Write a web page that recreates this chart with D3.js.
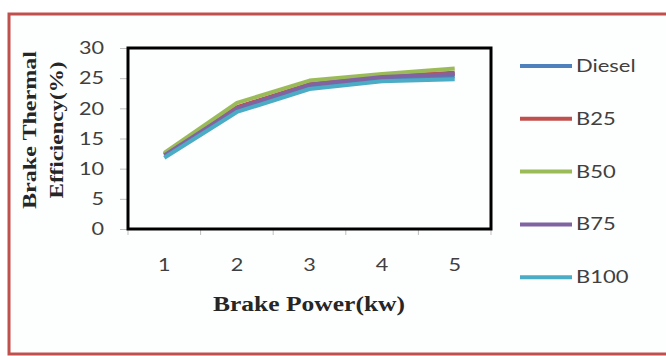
<!DOCTYPE html>
<html>
<head>
<meta charset="utf-8">
<script src="https://cdn.jsdelivr.net/npm/d3@7"></script>
<style>
  body { margin: 0; background: #fff; }
  .tick text { font-family: Lato, "Open Sans", sans-serif; font-size: 18px; fill: #404040; }
  .ttl { font-family: "Liberation Serif", "Times New Roman", serif; font-weight: bold; fill: #262626; }
</style>
</head>
<body>
<div id="chart"></div>
<script>
const categories = ["1", "2", "3", "4", "5"]
const seriesNames = ["Diesel", "B25", "B50", "B75", "B100"]
const diesel = [12.3, 19.8, 23.6, 24.9, 25.3]
const b25 = [12.4, 20.2, 24.0, 25.3, 25.9]
const b50 = [12.6, 20.9, 24.6, 25.7, 26.6]
const b75 = [12.2, 20.0, 23.9, 25.2, 25.7]
const b100 = [11.8, 19.4, 23.2, 24.5, 24.8]
const yTicks = [0, 5, 10, 15, 20, 25, 30]

const seriesValues = [diesel, b25, b50, b75, b100]
const colors = ["#4f81bd", "#c0504d", "#9bbb59", "#8064a2", "#4bacc6"]

const W = 666, H = 356
const margin = { top: 48, left: 128 }
const width = 363, height = 181

// the source picture is stretched sideways, so widen the text a bit
function widen(sel, k) {
    sel.each(function () {
        const len = this.getComputedTextLength()
        d3.select(this).attr("textLength", len * k).attr("lengthAdjust", "spacingAndGlyphs")
    })
}

const svg = d3.select("#chart").append("svg")
    .attr("width", W).attr("height", H)

// outer red frame
svg.append("rect")
    .attr("x", 9).attr("y", 14).attr("width", 670).attr("height", 340)
    .attr("fill", "#fdfefe").attr("stroke", "#c0504d").attr("stroke-width", 3)

const g = svg.append("g").attr("transform", "translate(" + margin.left + "," + margin.top + ")")

const x = d3.scaleBand().domain(categories).range([0, width])
const y = d3.scaleLinear().domain([0, 30]).range([height, 0])

// y axis
const yAxis = g.append("g")
    .call(d3.axisLeft(y).tickValues(yTicks).tickSize(8).tickPadding(16))
yAxis.select(".domain").remove()
yAxis.selectAll("line").attr("stroke", "#bfbfbf")
widen(yAxis.selectAll("text"), 1.2)

// x axis: ticks on band boundaries
const xAxis = g.append("g").attr("transform", "translate(0," + height + ")")
    .call(d3.axisBottom(x).tickSize(0).tickPadding(29))
xAxis.select(".domain").remove()
xAxis.selectAll(".bnd")
    .data(d3.range(categories.length + 1))
    .enter().append("line")
    .attr("x1", i => i * x.step()).attr("x2", i => i * x.step())
    .attr("y1", 0).attr("y2", 6)
    .attr("stroke", "#bfbfbf")
widen(xAxis.selectAll("text"), 1.2)

const line = d3.line()
    .x((d, i) => x(categories[i]) + x.bandwidth() / 2)
    .y(d => y(d))

g.selectAll(".series")
    .data(seriesValues)
    .enter().append("path")
    .attr("class", "series")
    .attr("fill", "none")
    .attr("stroke", (d, i) => colors[i])
    .attr("stroke-width", 4)
    .attr("stroke-linejoin", "round")
    .attr("d", d => line(d))

// plot box
g.append("rect")
    .attr("width", width).attr("height", height)
    .attr("fill", "none").attr("stroke", "#000").attr("stroke-width", 3)

// legend
const leg = svg.append("g").attr("transform", "translate(520,66)")
const item = leg.selectAll("g")
    .data(seriesNames)
    .enter().append("g")
    .attr("transform", (d, i) => "translate(0," + i * 52.8 + ")")
item.append("line")
    .attr("x1", 0).attr("x2", 52)
    .attr("stroke", (d, i) => colors[i]).attr("stroke-width", 4)
item.append("text")
    .attr("x", 56).attr("y", 6)
    .style("font-family", "Lato, 'Open Sans', sans-serif")
    .style("font-size", "18px").style("fill", "#404040")
    .text(d => d)
widen(item.selectAll("text"), 1.22)

// titles
svg.append("text").attr("class", "ttl")
    .attr("x", 309).attr("y", 311)
    .attr("text-anchor", "middle").style("font-size", "20px")
    .attr("textLength", 192).attr("lengthAdjust", "spacingAndGlyphs")
    .text("Brake Power(kw)")

const yt = svg.append("text").attr("class", "ttl")
    .attr("transform", "translate(0,130) rotate(-90)")
    .attr("text-anchor", "middle").style("font-size", "19px")
yt.append("tspan").attr("x", 0).attr("y", 36)
    .attr("textLength", 158).attr("lengthAdjust", "spacingAndGlyphs")
    .text("Brake Thermal")
yt.append("tspan").attr("x", 0).attr("y", 63)
    .attr("textLength", 137).attr("lengthAdjust", "spacingAndGlyphs")
    .text("Efficiency(%)")
</script>
</body>
</html>
